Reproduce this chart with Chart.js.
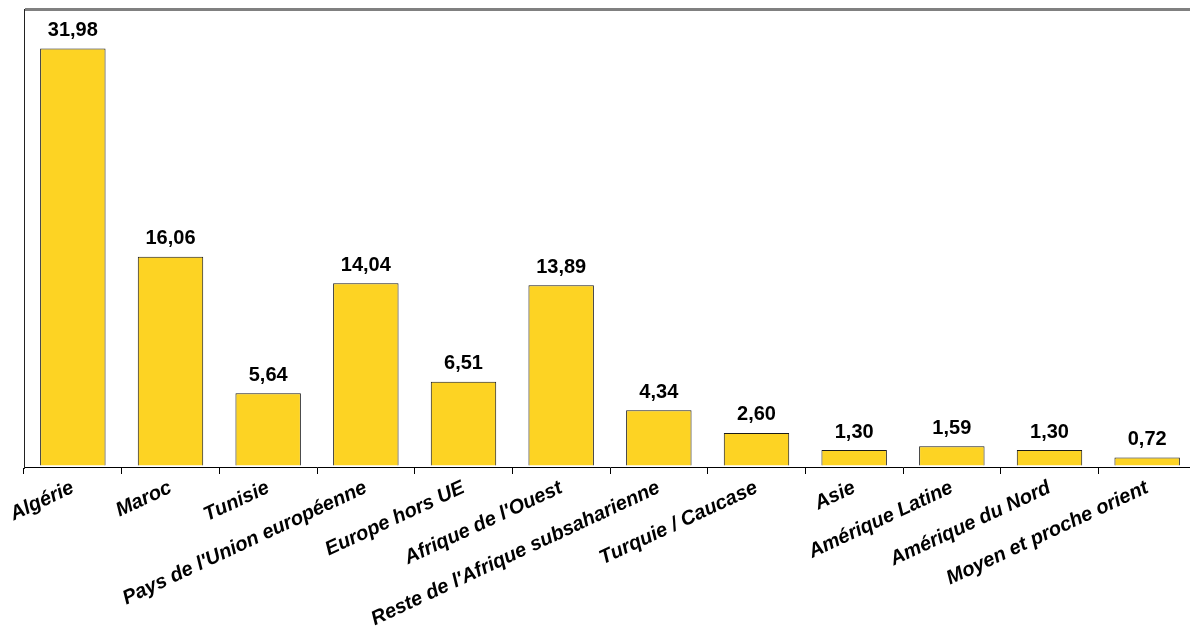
<!DOCTYPE html>
<html>
<head>
<meta charset="utf-8">
<script src="https://cdn.jsdelivr.net/npm/chart.js@4"></script>
<style>
    html, body { margin: 0; padding: 0; background: #fff; overflow: hidden; }
    #cadre { width: 1196px; height: 635px; position: relative; }
</style>
</head>
<body>
<div id="cadre"><canvas id="graphique"></canvas></div>
<script>
// données
const regions = [
    "Algérie", "Maroc", "Tunisie", "Pays de l'Union européenne", "Europe hors UE",
    "Afrique de l'Ouest", "Reste de l'Afrique subsaharienne", "Turquie / Caucase",
    "Asie", "Amérique Latine", "Amérique du Nord", "Moyen et proche orient"
];
const valeurs = [31.98, 16.06, 5.64, 14.04, 6.51, 13.89, 4.34, 2.60, 1.30, 1.59, 1.30, 0.72];
const axeMax = 35;

function formatFr(v) {
    return v.toFixed(2).replace(".", ",");
}

// étiquettes de valeur au-dessus des barres
const etiquettesValeurs = {
    id: "etiquettesValeurs",
    afterDatasetsDraw(chart) {
        const ctx = chart.ctx;
        const meta = chart.getDatasetMeta(0);
        ctx.save();
        ctx.font = "bold 20px 'Liberation Sans', Arial, sans-serif";
        ctx.fillStyle = "#000";
        ctx.textAlign = "center";
        ctx.textBaseline = "bottom";
        meta.data.forEach((barre, i) => {
            ctx.fillText(formatFr(valeurs[i]), barre.x, barre.y - 8);
        });
        ctx.restore();
    }
};

const config = {
    type: "bar",
    data: {
        labels: regions,
        datasets: [{
            data: valeurs,
            backgroundColor: "#FDD323",
            borderColor: "#1a1a1a",
            borderWidth: 1,
            barPercentage: 0.67,
            categoryPercentage: 1
        }]
    },
    options: {
        responsive: false,
        animation: false,
        layout: { padding: { left: 24, top: 9, right: 0, bottom: 0 } },
        plugins: {
            legend: { display: false },
            tooltip: { enabled: false }
        },
        scales: {
            x: {
                grid: {
                    offset: true,
                    drawOnChartArea: false,
                    color: "#000",
                    tickLength: 7
                },
                border: { color: "#000", width: 1 },
                ticks: {
                    color: "#000",
                    font: { family: "'Liberation Sans', Arial, sans-serif", size: 20, weight: "bold", style: "italic" },
                    minRotation: 25,
                    maxRotation: 25,
                    autoSkip: false,
                    padding: 2
                },
                afterFit(scale) { scale.height = 168; }
            },
            y: {
                min: 0,
                max: axeMax,
                ticks: { display: false, stepSize: 35 },
                grid: {
                    color: (c) => (c.tick && c.tick.value === axeMax ? "#808080" : "rgba(0,0,0,0)"),
                    lineWidth: 3,
                    drawTicks: false
                },
                border: { color: "#222", width: 1 },
                afterFit(scale) { scale.width = 0; }
            }
        }
    },
    plugins: [etiquettesValeurs]
};

const canvas = document.getElementById("graphique");
canvas.width = 1196;
canvas.height = 635;
new Chart(canvas, config);
</script>
</body>
</html>
